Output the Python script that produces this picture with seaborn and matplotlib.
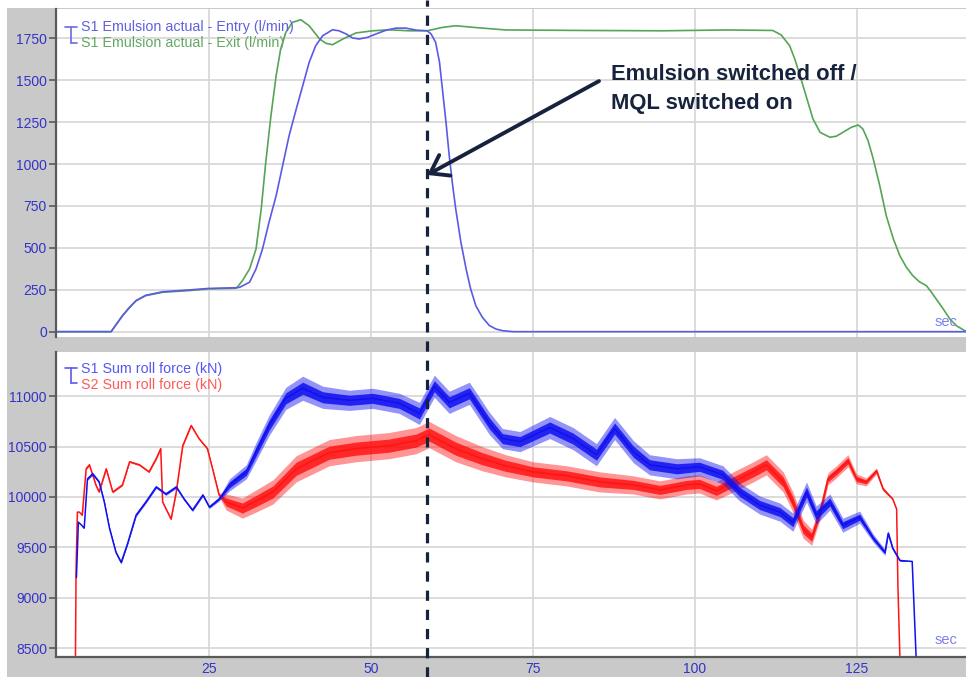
import numpy as np
import pandas as pd
import seaborn as sns
import matplotlib
matplotlib.use("Agg")
import matplotlib.pyplot as plt
from matplotlib.patches import Rectangle
from matplotlib.lines import Line2D

# ---------------- data ----------------
# upper panel: emulsion flow (l/min) over time (sec)
entry_t = [1.4, 9.95, 10.5, 11.7, 12.8, 13.8, 15.3, 17.9, 22.0, 25.0, 29.2, 29.8, 31.3, 32.3,
           33.3, 34.3, 35.4, 36.4, 37.4, 38.5, 39.5, 40.5, 41.5, 42.6, 44.1, 45.1, 46.2, 47.2,
           48.2, 49.5, 50.8, 52.4, 53.9, 55.4, 57.0, 58.7, 59.3, 60.0, 60.6, 61.1, 61.6, 62.1,
           62.6, 63.1, 63.9, 64.7, 65.4, 66.2, 67.2, 68.3, 69.3, 70.3, 72.0, 142.0]
entry_v = [0, 0, 30, 95, 145, 185, 217, 238, 249, 258, 262, 265, 295, 374,
           493, 652, 811, 990, 1169, 1328, 1467, 1607, 1706, 1766, 1801, 1795, 1776, 1752,
           1746, 1756, 1776, 1799, 1811, 1811, 1799, 1795, 1776, 1726, 1607, 1428, 1249, 1050,
           881, 732, 533, 374, 255, 155, 86, 36, 16, 6, 0, 0]

exit_t = [1.4, 9.95, 10.5, 11.7, 12.8, 13.8, 15.3, 17.9, 22.0, 25.0, 29.2, 29.4, 30.2, 31.3,
          32.3, 33.1, 33.8, 34.6, 35.4, 36.1, 36.9, 37.9, 39.2, 40.5, 42.1, 43.1, 44.1, 45.7,
          47.7, 50.3, 52.8, 55.9, 58.7, 61.0, 63.1, 66.0, 70.8, 82.7, 95.0, 105.0, 112.0,
          113.3, 114.6, 115.4, 116.2, 117.2, 118.2, 119.3, 120.8, 121.8, 122.8, 124.1, 125.2,
          125.9, 126.7, 127.5, 128.5, 129.5, 130.6, 131.6, 132.6, 133.6, 134.6, 135.7, 136.4,
          137.2, 138.3, 139.3, 140.3, 141.6, 142.0]
exit_v = [0, 0, 30, 95, 145, 185, 215, 235, 245, 255, 259, 265, 304, 374,
          493, 732, 1010, 1288, 1527, 1686, 1786, 1845, 1861, 1825, 1746, 1720, 1712, 1746,
          1782, 1795, 1801, 1795, 1795, 1815, 1825, 1815, 1800, 1797, 1795, 1800, 1797,
          1770, 1706, 1626, 1527, 1398, 1269, 1189, 1160, 1166, 1189, 1219, 1233,
          1209, 1139, 1030, 871, 692, 553, 453, 384, 334, 298, 274, 239,
          195, 135, 76, 36, 6, 0]

# lower panel: roll force (kN), centre value and half-width of the noise band
s1_t = [4.6, 4.9, 5.4, 5.8, 6.3, 7.1, 8.1, 8.9, 9.7, 10.7, 11.5, 12.5, 13.8, 15.3, 16.9, 18.4,
        20.0, 21.2, 22.5, 24.1, 25.1, 26.6, 28.2, 30.8, 32.3, 34.3, 36.9, 39.5, 42.6, 46.7,
        50.3, 54.4, 57.5, 59.8, 62.1, 65.2, 68.3, 70.3, 73.0, 77.6, 81.2, 84.8, 87.6, 90.5,
        93.0, 97.2, 100.7, 104.3, 106.9, 110.0, 113.1, 115.1, 117.2, 118.7, 120.8, 122.8,
        125.4, 127.5, 129.3, 129.8, 130.5, 131.6, 133.5, 133.8, 134.1]
s1_v = [9200, 9750, 9720, 9690, 10180, 10230, 10150, 9950, 9690, 9450, 9350, 9540, 9820, 9950,
        10100, 10030, 10100, 9980, 9870, 10020, 9900, 9980, 10120, 10250, 10450, 10710, 10980,
        11080, 10990, 10960, 10980, 10930, 10830, 11100, 10940, 11030, 10730, 10580, 10550,
        10690, 10580, 10420, 10680, 10450, 10320, 10280, 10300, 10220, 10050, 9920, 9850, 9750,
        10050, 9820, 9950, 9720, 9800, 9590, 9450, 9640, 9490, 9370, 9360, 8890, 8420]
s1_w = [0, 0, 0, 0, 15, 15, 15, 15, 15, 15, 15, 15, 15, 15, 15, 15, 15, 15, 15, 15, 15, 20,
        60, 70, 90, 100, 110, 120, 110, 100, 100, 100, 110, 110, 110, 110, 110, 100, 100,
        110, 110, 110, 110, 110, 100, 100, 90, 90, 90, 90, 90, 90, 100, 90, 80, 70, 60, 40,
        30, 30, 20, 10, 0, 0, 0]

s2_t = [4.45, 4.55, 4.75, 5.05, 5.5, 6.1, 6.6, 7.6, 8.1, 9.2, 10.2, 11.7, 12.8, 14.3, 15.8,
        16.9, 17.6, 17.9, 19.2, 20.0, 21.0, 22.3, 23.5, 24.8, 25.6, 26.6, 27.7, 30.2, 32.3,
        34.9, 38.5, 43.6, 47.7, 52.8, 57.0, 59.0, 63.1, 67.2, 70.8, 75.0, 80.2, 85.3, 90.5,
        94.6, 98.7, 100.7, 103.3, 105.9, 109.0, 111.0, 113.6, 115.1, 116.7, 118.0, 119.3,
        120.5, 121.8, 123.6, 124.9, 126.4, 128.0, 129.0, 130.5, 131.1, 131.3, 131.6]
s2_v = [8420, 9300, 9850, 9850, 9820, 10280, 10320, 10120, 10050, 10280, 10050, 10120, 10350,
        10320, 10250, 10380, 10480, 9950, 9780, 10050, 10510, 10710, 10580, 10480, 10280,
        10020, 9950, 9890, 9960, 10050, 10280, 10440, 10480, 10510, 10560, 10620, 10480,
        10380, 10310, 10250, 10210, 10150, 10120, 10070, 10120, 10130, 10060, 10150, 10250,
        10320, 10150, 9950, 9680, 9600, 9850, 10180, 10250, 10360, 10180, 10150, 10260,
        10080, 9980, 9880, 9120, 8420]
s2_w = [0, 0, 0, 0, 10, 10, 10, 10, 10, 10, 10, 10, 10, 10, 10, 10, 10, 10, 10, 10, 10, 10,
        10, 10, 10, 20, 80, 100, 110, 120, 130, 130, 130, 130, 130, 130, 130, 120, 110, 100,
        100, 100, 90, 90, 90, 90, 90, 100, 100, 100, 100, 100, 90, 80, 70, 60, 60, 60, 50,
        40, 30, 20, 10, 0, 0, 0]

x_ticks = [25, 50, 75, 100, 125]
top_yticks = [0, 250, 500, 750, 1000, 1250, 1500, 1750]
bot_yticks = [8500, 9000, 9500, 10000, 10500, 11000]
switch_time = 58.7

# ---------------- style ----------------
sns.set_theme(style="white")
plt.rcParams["font.family"] = ["Liberation Sans", "DejaVu Sans"]

W, H = 966, 677
fig = plt.figure(figsize=(W / 100, H / 100), dpi=100, facecolor="white")
fig.patches.append(Rectangle((7 / W, 0), 1, 1 - 8 / H, transform=fig.transFigure,
                             facecolor="#c9c9c9", edgecolor="none", zorder=-10))

left = 56 / W
ax1 = fig.add_axes([left, 1 - 336.7 / H, 1 - left, (336.7 - 9) / H])
ax2 = fig.add_axes([left, 1 - 656.7 / H, 1 - left, (656.7 - 352.3) / H])

tick_blue = "#3333c8"
grid_col = "#d6d6d6"
for ax in (ax1, ax2):
    ax.set_facecolor("white")
    ax.set_xlim(1.45, 141.8)
    ax.set_xticks(x_ticks)
    ax.grid(True, color=grid_col, lw=1.2)
    ax.set_axisbelow(True)
    for s in ("top", "right"):
        ax.spines[s].set_visible(False)
    ax.spines["left"].set_color("#5a5a5a")
    ax.spines["left"].set_linewidth(1.6)
    ax.tick_params(axis="y", direction="out", length=5, width=1.2, color="#5a5a5a",
                   labelcolor=tick_blue, labelsize=10, pad=1.5, left=True)

ax1.spines["bottom"].set_visible(False)
ax1.tick_params(axis="x", length=0, labelbottom=False)
ax2.spines["bottom"].set_color("#5a5a5a")
ax2.spines["bottom"].set_linewidth(1.6)
ax2.tick_params(axis="x", length=0, labelcolor=tick_blue, labelsize=10, pad=4)

# ---------------- upper panel ----------------
entry_col = "#5a5ae6"
exit_col = "#56a456"
sns.lineplot(x=exit_t, y=exit_v, ax=ax1, color=exit_col, lw=1.2, estimator=None, sort=False)
sns.lineplot(x=entry_t, y=entry_v, ax=ax1, color=entry_col, lw=1.2, estimator=None, sort=False)
ax1.set_ylim(-30, 1925)
ax1.set_yticks(top_yticks)
ax1.set_xlabel("")
ax1.set_ylabel("")

# ---------------- lower panel ----------------
s1_col = "#1010f0"
s2_col = "#ff1414"
for t, v, w, c, z in ((s2_t, s2_v, s2_w, s2_col, 2), (s1_t, s1_v, s1_w, s1_col, 3)):
    v = np.array(v, float)
    w = np.array(w, float)
    ax2.fill_between(t, v - w, v + w, color=c, alpha=0.45, lw=0, zorder=z)
    ax2.fill_between(t, v - 0.5 * w, v + 0.5 * w, color=c, alpha=0.85, lw=0, zorder=z)
    sns.lineplot(x=t, y=v, ax=ax2, color=c, lw=1.1, estimator=None, sort=False, zorder=z)
ax2.set_ylim(8414, 11437)
ax2.set_yticks(bot_yticks)
ax2.set_xticks(x_ticks)
ax2.set_xticklabels([str(x) for x in x_ticks])
ax2.set_xlabel("")
ax2.set_ylabel("")

# ---------------- legends ----------------
def bracket(y_top, y_bot, color):
    xs = [65 / W, 77 / W]
    xm = 70.7 / W
    fig.add_artist(Line2D(xs, [1 - y_top / H] * 2, color=color, lw=1.2, transform=fig.transFigure))
    fig.add_artist(Line2D([xm, xm], [1 - y_top / H, 1 - y_bot / H], color=color, lw=1.2,
                          transform=fig.transFigure))
    fig.add_artist(Line2D([xm, 77 / W], [1 - y_bot / H] * 2, color=color, lw=1.2,
                          transform=fig.transFigure))

bracket(26.5, 42.5, "#6a6ae6")
fig.text(81 / W, 1 - 27.5 / H, "S1 Emulsion actual - Entry (l/min)", color="#6060e0",
         fontsize=10.3, va="center", ha="left")
fig.text(81 / W, 1 - 43.5 / H, "S1 Emulsion actual - Exit (l/min)", color="#62a862",
         fontsize=10.3, va="center", ha="left")

bracket(368, 383, "#5a5af0")
fig.text(81 / W, 1 - 369.5 / H, "S1 Sum roll force (kN)", color="#5656f2",
         fontsize=10.3, va="center", ha="left")
fig.text(81 / W, 1 - 385 / H, "S2 Sum roll force (kN)", color="#ff5a5a",
         fontsize=10.3, va="center", ha="left")

fig.text(946 / W, 1 - 322 / H, "sec", color="#8080ee", fontsize=10.5, ha="center", va="center")
fig.text(946 / W, 1 - 640 / H, "sec", color="#8080ee", fontsize=10.5, ha="center", va="center")

# ---------------- switch-over marker ----------------
navy = "#17223d"
xs = (switch_time - 1.45) / (141.8 - 1.45) * (1 - left) + left
fig.add_artist(Line2D([xs, xs], [0, 1], transform=fig.transFigure, color=navy, lw=2.3,
                      linestyle=(0, (3.2, 2.8)), zorder=5))

ax1.annotate("", xy=(switch_time, 935), xytext=(85.2, 1495),
             xycoords="data", textcoords="data", annotation_clip=False,
             arrowprops=dict(arrowstyle="->,head_length=0.4,head_width=0.28", lw=2.8,
                             color=navy, mutation_scale=30, shrinkA=0, shrinkB=0))
fig.text(611 / W, 1 - 89.5 / H, "Emulsion switched off /\nMQL switched on", color=navy,
         fontsize=15.8, fontweight="bold", ha="left", va="center", linespacing=1.5)

fig.savefig("out.png", dpi=100, facecolor=fig.get_facecolor())
